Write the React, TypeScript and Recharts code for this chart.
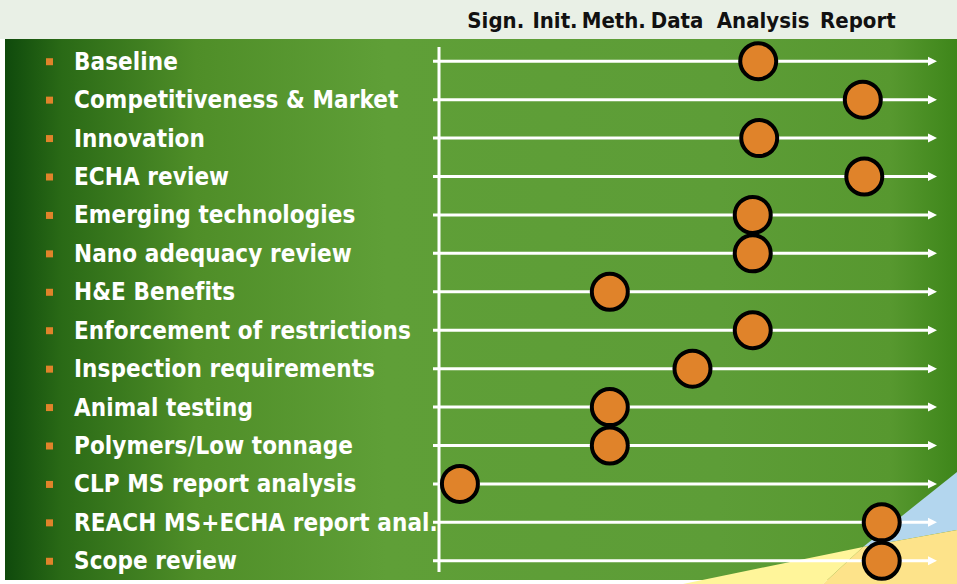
import React from 'react';
import { ScatterChart, Scatter, XAxis, YAxis, ReferenceLine } from 'recharts';

const tasks = [
  'Baseline',
  'Competitiveness & Market',
  'Innovation',
  'ECHA review',
  'Emerging technologies',
  'Nano adequacy review',
  'H&E Benefits',
  'Enforcement of restrictions',
  'Inspection requirements',
  'Animal testing',
  'Polymers/Low tonnage',
  'CLP MS report analysis',
  'REACH MS+ECHA report anal.',
  'Scope review',
];

// position of each task on the timeline, 0-100
const progress = [64.1, 85.1, 64.3, 85.4, 63.0, 63.0, 34.3, 63.0, 50.9, 34.3, 34.3, 4.2, 88.9, 88.9];

const stageLabels = ['Sign.', 'Init.', 'Meth.', 'Data', 'Analysis', 'Report'];
const stagePositions = [11.4, 23.3, 35.1, 47.8, 65.1, 84.1];

const data = tasks.map((name, i) => ({ name, progress: progress[i] }));

const FONT = "'DejaVu Sans Condensed', 'DejaVu Sans', sans-serif";
const ORANGE = '#e0832a';

const TaskTick = (props: any) => {
  const { y, payload } = props;
  return (
    <g>
      <rect x={46} y={y - 3} width={7} height={7} fill={ORANGE} />
      <text x={74} y={y + 8.5} fill="#fff" fontFamily={FONT} fontWeight="bold" fontSize={24} letterSpacing={0.08}>
        {payload.value}
      </text>
    </g>
  );
};

const StageTick = (props: any) => {
  const { x, payload } = props;
  const label = stageLabels[stagePositions.indexOf(payload.value)];
  return (
    <text x={x} y={28} textAnchor="middle" fill="#111" fontFamily={FONT} fontWeight="bold" fontSize={22}>
      {label}
    </text>
  );
};

const ArrowLine = (props: any) => {
  const { x1, y1, x2 } = props;
  const left = Math.min(x1, x2);
  const right = Math.max(x1, x2);
  return (
    <g>
      <line x1={left - 6} y1={y1} x2={right - 7} y2={y1} stroke="#fff" strokeWidth={3} />
      <polygon points={`${right},${y1} ${right - 9},${y1 - 4.5} ${right - 9},${y1 + 4.5}`} fill="#fff" />
    </g>
  );
};

const AxisLine = (props: any) => {
  const { x1, y1, y2 } = props;
  const top = Math.min(y1, y2);
  const bottom = Math.max(y1, y2);
  return <line x1={x1} y1={top + 5} x2={x1} y2={bottom - 8} stroke="#fff" strokeWidth={3} />;
};

const Dot = (props: any) => (
  <circle cx={props.cx} cy={props.cy} r={18} fill={ORANGE} stroke="#000" strokeWidth={4} />
);

const App = () => {
  return (
    <div style={{ position: 'absolute', left: 0, top: 0, width: 957, height: 584, background: '#fff' }}>
      <svg width={957} height={584} style={{ position: 'absolute', left: 0, top: 0 }}>
        <defs>
          <linearGradient id="bg" x1="0" y1="0" x2="1" y2="0">
            <stop offset="0%" stopColor="#0f4a0c" />
            <stop offset="6%" stopColor="#2a6a16" />
            <stop offset="20%" stopColor="#4f8e28" />
            <stop offset="40%" stopColor="#5f9f37" />
            <stop offset="75%" stopColor="#5d9d37" />
            <stop offset="93%" stopColor="#57982f" />
            <stop offset="100%" stopColor="#3e861a" />
          </linearGradient>
        </defs>
        <rect x={0} y={0} width={957} height={39} fill="#e9f0e6" />
        <rect x={5} y={39} width={952} height={541} fill="url(#bg)" />
        <polygon points="957,472 863,547 957,530" fill="#b3d6ee" />
        <polygon points="683,584 863,547 823,584" fill="#fff59a" />
        <polygon points="863,547 957,530 957,584 823,584" fill="#fde38a" />
      </svg>
      <div style={{ position: 'absolute', left: 0, top: 0 }}>
        <ScatterChart width={957} height={584} margin={{ top: 0, right: 20, bottom: 4, left: 0 }}>
          <XAxis
            type="number"
            dataKey="progress"
            orientation="top"
            domain={[0, 100]}
            ticks={stagePositions}
            height={42}
            axisLine={false}
            tickLine={false}
            tick={<StageTick />}
            interval={0}
          />
          <YAxis
            type="category"
            dataKey="name"
            reversed
            width={439}
            axisLine={false}
            tickLine={false}
            tick={<TaskTick />}
            interval={0}
          />
          {tasks.map((t) => (
            <ReferenceLine key={t} y={t} shape={ArrowLine} />
          ))}
          <ReferenceLine x={0} shape={AxisLine} />
          <Scatter data={data} shape={Dot} isAnimationActive={false} />
        </ScatterChart>
      </div>
    </div>
  );
};

export default App;
